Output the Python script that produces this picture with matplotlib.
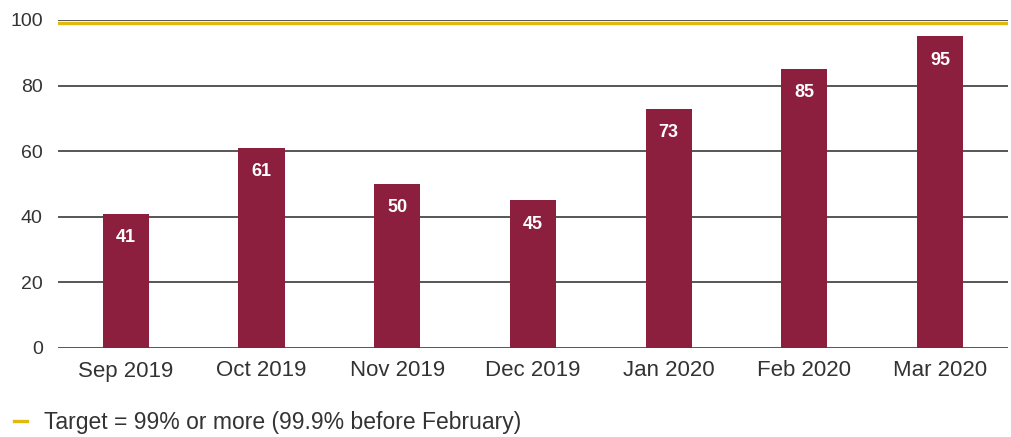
import matplotlib.pyplot as plt
from matplotlib.lines import Line2D

plt.rcParams['font.family'] = ['Liberation Sans', 'DejaVu Sans']

months = ['Sep 2019', 'Oct 2019', 'Nov 2019', 'Dec 2019', 'Jan 2020', 'Feb 2020', 'Mar 2020']
values = [41, 61, 50, 45, 73, 85, 95]
target = 99

bar_color = '#8c1f3d'
gold = '#e2b80f'

fig = plt.figure(figsize=(10.11, 4.37), dpi=100)
ax = fig.add_axes([58 / 1011, 1 - 348 / 437, 950 / 1011, 328 / 437])

x = range(len(months))
ax.set_ylim(0, 100)
ax.set_xlim(-0.5, len(months) - 0.5)
ax.set_yticks(range(0, 101, 20))
ax.grid(axis='y', color='#3a3a3a', linewidth=1.2)
ax.set_axisbelow(True)

ax.bar(x, values, width=0.34, color=bar_color, zorder=2)
for xi, v in zip(x, values):
    ax.annotate(str(v), (xi, v), xytext=(0, -17), textcoords='offset points',
                ha='center', va='center', color='white', fontsize=13,
                fontweight='bold', zorder=3)

ax.axhline(target, color=gold, linewidth=2.4, zorder=1)

for s in ax.spines.values():
    s.set_visible(False)
ax.tick_params(axis='both', length=0, colors='#333333')
ax.tick_params(axis='y', pad=11, labelsize=14)
ax.tick_params(axis='x', pad=9, labelsize=16)
ax.set_xticks(list(x))
ax.set_xticklabels(months)

handle = Line2D([], [], color=gold, linewidth=2.4)
fig.legend([handle], ['Target = 99% or more (99.9% before February)'],
           loc='center left', bbox_to_anchor=(14 / 1011, 14 / 437),
           borderaxespad=0, borderpad=0, frameon=False,
           fontsize=16.5, handlelength=0.55, handletextpad=0.75,
           labelcolor='#333333')

fig.savefig('out.png', dpi=100)
